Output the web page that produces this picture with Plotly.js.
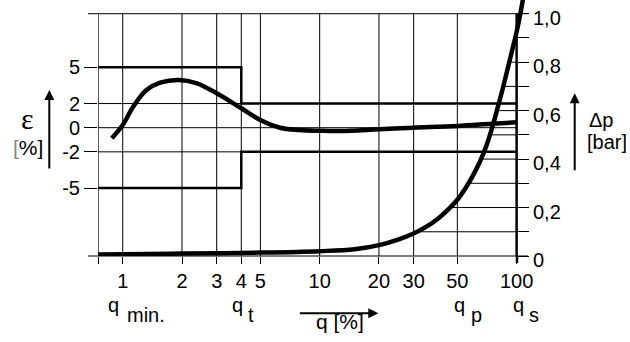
<!DOCTYPE html>
<html>
<head>
<meta charset="utf-8">
<script src="https://cdn.plot.ly/plotly-3.0.1.min.js"></script>
<style>
  html, body { margin: 0; padding: 0; background: #fff; }
  #chart { width: 630px; height: 342px; }
</style>
</head>
<body>
<div id="chart"></div>
<script>
// flow rate q [%] on a log axis
const xTickVals = [0.75, 1, 2, 3, 4, 5, 10, 20, 30, 50, 100];
const xTickText = ['', '1', '2', '3', '4', '5', '10', '20', '30', '50', '100'];
const gridQ = [0.75, 1, 2, 3, 4, 5, 10, 20, 30, 50];

// error epsilon [%] (left axis)
const epsTickVals = [-5, -2, 0, 2, 5];
const epsTickText = ['-5', '-2', '0', '2', '5'];
const epsGrid = [-2, 0, 2];

// pressure loss dp [bar] (right axis)
const dpTickVals = [0, 0.1, 0.2, 0.3, 0.4, 0.5, 0.6, 0.7, 0.8, 0.9, 1.0];
const dpTickText = ['0', '', '0,2', '', '0,4', '', '0,6', '', '0,8', '', '1,0'];
const hatchLevels = [0.1, 0.2, 0.3, 0.4, 0.5, 0.6, 0.7, 0.8, 0.9];

// accuracy limits
const limitQ = [0.75, 4, 100];
const limitUpper = [5, 2, 2];
const limitLower = [-5, -2, -2];

// error curve
const epsQ = [0.88, 1, 1.13, 1.32, 1.55, 1.92, 2.38, 3, 4, 5, 6.3, 7.9, 10, 12.7, 20, 30, 50, 75, 100];
const epsVal = [-0.88, 0.22, 1.74, 3.12, 3.73, 3.95, 3.68, 2.85, 1.61, 0.64, 0.0, -0.19, -0.25, -0.27, -0.13, 0.0, 0.15, 0.33, 0.45];

// pressure loss curve
const dpQ = [0.75, 1, 2, 5, 10, 15, 20, 25, 30, 35, 40, 45, 50, 55, 60, 65, 70, 75, 80, 85, 90, 95, 100, 105, 108];
const dpVal = [0.006, 0.007, 0.010, 0.014, 0.020, 0.028, 0.045, 0.068, 0.093, 0.122, 0.155, 0.192, 0.232, 0.280, 0.332, 0.388, 0.452, 0.528, 0.610, 0.690, 0.772, 0.850, 0.925, 1.010, 1.065];

const FONT = 'Liberation Sans, Arial, sans-serif';
const L = 98, R = 105, T = 0, B = 86;
const W = 630 - L - R, H = 342 - T - B;
const PX_DECADE = 197;
const xRange = [Math.log10(0.749), Math.log10(0.75) + W / PX_DECADE];
const epsPx = 12.07, eps0 = 127.7;
const epsRange = [-(H - eps0) / epsPx, eps0 / epsPx];
const dpRange = [0, H / 242.3];

// pixel helpers for the decorations around the frame
const px = v => (v - L) / W;
const py = v => (H + T - v) / H;

// where the dp curve reaches a level (log-q interpolation)
function qAtDp(level) {
  for (let i = 0; i < dpVal.length - 1; i++) {
    if (dpVal[i] <= level && dpVal[i + 1] >= level) {
      const t = (level - dpVal[i]) / (dpVal[i + 1] - dpVal[i]);
      const a = Math.log10(dpQ[i]), b = Math.log10(dpQ[i + 1]);
      return Math.pow(10, a + t * (b - a));
    }
  }
  return 100;
}

const thin = { color: '#000', width: 1 };
const shapes = [];
gridQ.forEach(q => shapes.push({ type: 'line', xref: 'x', yref: 'y2', x0: q, x1: q, y0: 0, y1: 1, line: thin, layer: 'below' }));
shapes.push({ type: 'line', xref: 'x', yref: 'y2', x0: 100, x1: 100, y0: 0, y1: 1, line: { color: '#000', width: 2.5 } });
epsGrid.forEach(e => shapes.push({ type: 'line', xref: 'x', yref: 'y', x0: 0.75, x1: 100, y0: e, y1: e, line: thin, layer: 'below' }));
hatchLevels.forEach(d => shapes.push({ type: 'line', xref: 'x', yref: 'y2', x0: qAtDp(d), x1: 100, y0: d, y1: d, line: thin, layer: 'below' }));
// top and bottom frame lines
shapes.push({ type: 'line', xref: 'paper', yref: 'paper', x0: px(88), x1: px(528), y0: 1 / dpRange[1], y1: 1 / dpRange[1], line: thin });
shapes.push({ type: 'line', xref: 'paper', yref: 'paper', x0: px(88), x1: px(528), y0: 0, y1: 0, line: thin });
// thick stub of the right border below the baseline
shapes.push({ type: 'line', xref: 'paper', yref: 'paper', x0: px(517), x1: px(517), y0: 0, y1: py(263), line: { color: '#000', width: 2.5 } });

const traces = [
  { x: limitQ, y: limitUpper, type: 'scatter', mode: 'lines', line: { shape: 'hv', color: '#000', width: 2.5 }, yaxis: 'y', hoverinfo: 'skip' },
  { x: limitQ, y: limitLower, type: 'scatter', mode: 'lines', line: { shape: 'hv', color: '#000', width: 2.5 }, yaxis: 'y', hoverinfo: 'skip' },
  { x: epsQ, y: epsVal, type: 'scatter', mode: 'lines', line: { shape: 'spline', smoothing: 1, color: '#000', width: 4.5 }, yaxis: 'y' },
  { x: dpQ, y: dpVal, type: 'scatter', mode: 'lines', line: { shape: 'spline', smoothing: 1, color: '#000', width: 4.5 }, yaxis: 'y2' }
];

const txt = (text, x, y, size, opts) => Object.assign({
  text: text, xref: 'paper', yref: 'paper', x: px(x), y: py(y),
  xanchor: 'center', yanchor: 'middle', showarrow: false,
  font: { family: FONT, size: size, color: '#000' }
}, opts || {});

const arrow = (x, y, ax, ay) => ({
  text: '', xref: 'paper', yref: 'paper', x: px(x), y: py(y), ax: ax, ay: ay,
  showarrow: true, arrowhead: 2, arrowsize: 1, arrowwidth: 2, arrowcolor: '#000', standoff: 0, startstandoff: 0
});

const annotations = [
  txt('ε', 27.5, 118.5, 30, { font: { family: 'Liberation Serif, serif', size: 30, color: '#000' } }),
  txt('<span style="color:#888">[</span>%]', 28, 147, 21),
  arrow(49.3, 90, 0, 80),
  txt('Δp', 601.3, 120, 20),
  txt('[bar]', 607, 141.5, 20),
  arrow(574.7, 93.3, 0, 78.4),
  txt('q', 113.7, 305, 20),
  txt('min.', 125, 315, 20, { xanchor: 'left' }),
  txt('q', 237.5, 305, 20),
  txt('t', 246, 315, 20, { xanchor: 'left' }),
  txt('q', 459, 305, 20),
  txt('p', 468.5, 315, 20, { xanchor: 'left' }),
  txt('q', 518.3, 305, 20),
  txt('s', 526.5, 315, 20, { xanchor: 'left' }),
  arrow(378.3, 313.3, -80, 0),
  txt('q [%]', 340, 321.7, 21)
];

const tickFont = { family: FONT, size: 20, color: '#000' };

const layout = {
  width: 630, height: 342,
  margin: { l: L, r: R, t: T, b: B, pad: 0 },
  paper_bgcolor: '#fff', plot_bgcolor: 'rgba(0,0,0,0)',
  showlegend: false,
  xaxis: {
    type: 'log', range: xRange, tickmode: 'array', tickvals: xTickVals, ticktext: xTickText,
    ticks: 'outside', ticklen: 7, tickwidth: 1, tickcolor: '#000', tickfont: tickFont,
    showgrid: false, zeroline: false, showline: false
  },
  yaxis: {
    range: epsRange, tickmode: 'array', tickvals: epsTickVals, ticktext: epsTickText,
    ticks: 'outside', ticklen: 13, tickwidth: 1, tickcolor: '#000', tickfont: tickFont,
    showgrid: false, zeroline: false, showline: false
  },
  yaxis2: {
    range: dpRange, overlaying: 'y', side: 'right', anchor: 'free', position: (517 - L) / W,
    tickmode: 'array', tickvals: dpTickVals, ticktext: dpTickText,
    ticks: 'outside', ticklen: 11, tickwidth: 1, tickcolor: '#000', tickfont: tickFont,
    ticklabelshift: 4,
    showgrid: false, zeroline: false, showline: false
  },
  shapes: shapes,
  annotations: annotations
};

Plotly.newPlot('chart', traces, layout, { staticPlot: true, displayModeBar: false });
</script>
</body>
</html>
